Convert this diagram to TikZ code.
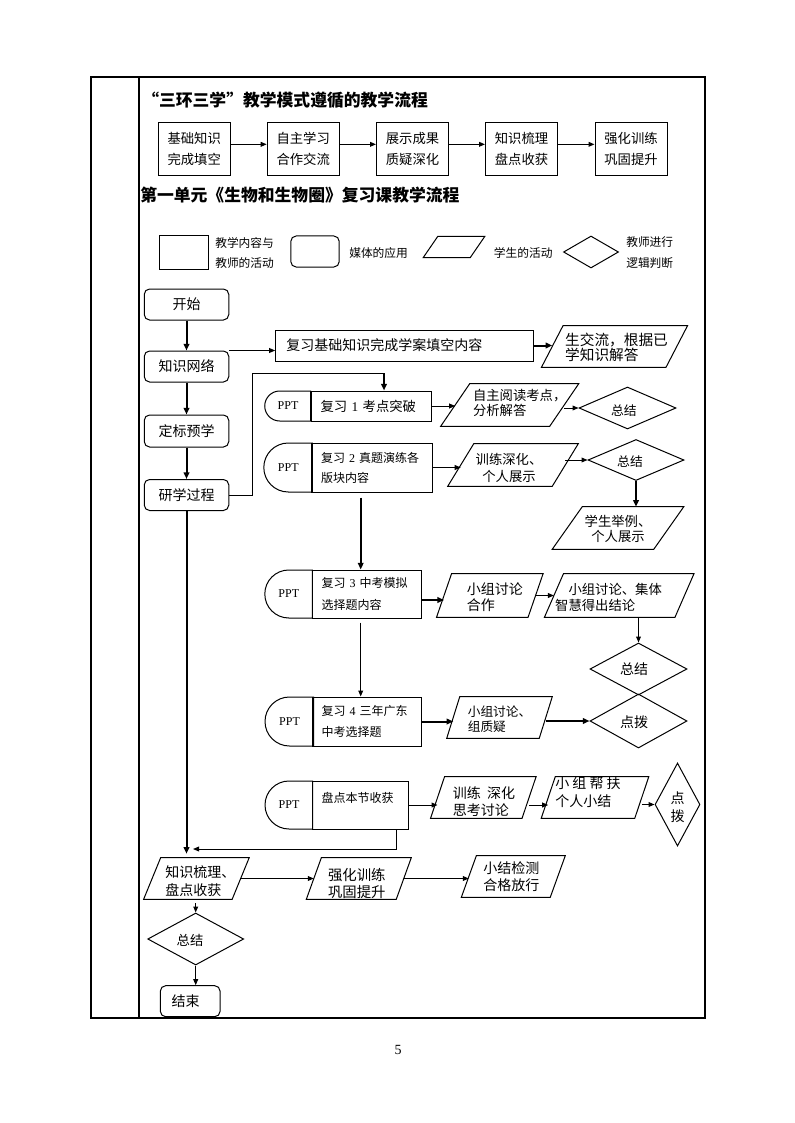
\documentclass[tikz,border=0pt]{standalone}
\usepackage{fontspec}
\setmainfont{Noto Sans CJK SC}
\newfontfamily\tnr{Liberation Serif}
\usetikzlibrary{shapes.geometric,shapes.misc,arrows.meta,calc}
\newcommand\fsz[2]{\fontsize{#1}{#2}\selectfont}
\newcommand\parabox[9][]{%
  \node[pbody,bw=#5,bh=#6] (#2) at (#3,#4) {};
  \draw[thinl] ($(#2.south west)+(-#7/2,0)$) -- ($(#2.north west)+(#7/2,0)$) -- ($(#2.north east)+(#7/2,0)$) -- ($(#2.south east)+(-#7/2,0)$) -- cycle;
  \node[ptxt,#1] (#2-t) at ($(#2.center)+(#8)$) {#9};
}
\tikzset{
  bw/.code={\pgfmathsetlengthmacro\tmpbw{#1*0.75pt}\edef\tmpx{\noexpand\tikzset{minimum width=\tmpbw}}\tmpx},
  bh/.code={\pgfmathsetlengthmacro\tmpbh{#1*0.75pt}\edef\tmpx{\noexpand\tikzset{minimum height=\tmpbh}}\tmpx},
  tw/.code={\pgfmathsetlengthmacro\tmptw{#1*0.75pt}\edef\tmpx{\noexpand\tikzset{text width=\tmptw}}\tmpx},
  thinl/.style={line width=0.75pt},
  thickl/.style={line width=1.5pt},
  arr/.style={thinl,-{Triangle[length=4.5pt,width=3.6pt]}},
  tarr/.style={thickl,-{Triangle[length=5pt,width=4.2pt]}},
  box/.style={draw,thinl,rectangle,inner sep=0pt,align=center},
  rbox/.style={box,rounded corners=4pt},
  pbody/.style={rectangle,inner sep=0pt,draw=none},
  ptxt/.style={inner sep=0pt,align=left,font=\fsz{10.5}{12.5}},
  dia/.style={draw,thinl,diamond,inner sep=0pt},
  dtxt/.style={inner sep=0pt,align=center,font=\fsz{10}{12}},
  ppt/.style={draw,thinl,rounded rectangle,rounded rectangle right arc=none,inner sep=0pt,font=\tnr\fsz{9}{10}},
  rt/.style={box,align=left,inner xsep=7.1pt,font=\fsz{9}{15}},
  lgt/.style={anchor=west,inner sep=0pt,align=left,font=\fsz{8.8}{15}},
  ttl/.style={anchor=west,inner sep=0pt,font=\bfseries\fsz{12.6}{14}},
  colbox/.style={rbox,bw=84.5,bh=31,font=\fsz{10.5}{12}},
  topbox/.style={box,bw=72,bh=53.4,font=\fsz{10}{16.3}},
}
\begin{document}
\begin{tikzpicture}[x=0.75pt,y=-0.75pt]
\fill[white] (0,0) rectangle (794,1123);
\useasboundingbox (0,0) rectangle (794,1123);
% frame
\draw[thickl] (91,77) rectangle (705,1018);
\draw[thickl] (139,77) -- (139,1018);
% titles
\node[ttl] (t1) at (142,100) {“三环三学”教学模式遵循的教学流程};
\node[ttl] (t2) at (140,195.5) {第一单元《生物和生物圈》复习课教学流程};
% top row
\node[topbox] (b1) at (194.2,149) {基础知识\\完成填空};
\node[topbox] (b2) at (303.2,149) {自主学习\\合作交流};
\node[topbox] (b3) at (412.5,149) {展示成果\\质疑深化};
\node[topbox] (b4) at (521.5,149) {知识梳理\\盘点收获};
\node[topbox] (b5) at (631,149) {强化训练\\巩固提升};
\foreach \a/\b in {b1/b2,b2/b3,b3/b4,b4/b5}
  \draw[arr] ([yshift=3.5pt]\a.east) -- ([yshift=3.5pt]\b.west);
% legend
\node[box,bw=48.5,bh=33] (lg1) at (184,252.5) {};
\node[lgt] (lg1t) at (215,253.3) {教学内容与\\教师的活动};
\node[rbox,bw=48.4,bh=31] (lg2) at (315,251.5) {};
\node[lgt] (lg2t) at (349,253) {媒体的应用};
\parabox{lg3}{454}{247}{46.5}{20.6}{14.5}{0,0}{}
\node[lgt] (lg3t) at (493.6,253) {学生的活动};
\node[dia,bw=55,bh=32] (lg4) at (591,252) {};
\node[lgt,font=\fsz{8.8}{16.2}] (lg4t) at (626,252.5) {教师进行\\逻辑判断};
% left column
\node[colbox] (kaishi) at (186.5,304.5) {开始};
\node[colbox] (zhishi) at (186.5,366.5) {知识网络};
\node[colbox,bh=32] (dingbiao) at (186.5,431) {定标预学};
\node[colbox] (yanxue) at (186.5,495) {研学过程};
\draw[tarr] (kaishi) -- (zhishi);
\draw[tarr] (zhishi) -- (dingbiao);
\draw[tarr] (dingbiao) -- (yanxue);
% review basics
\node[rt,bw=258,bh=31,tw=236.7,inner xsep=8pt,font=\fsz{10.5}{12}] (fuxi) at (404.7,345.5) {复习基础知识完成学案填空内容};
\parabox[font=\fsz{11}{11.5}]{sjl}{614.5}{346.5}{124}{41}{21.5}{2,1}{生交流，根据已\\学知识解答}
\draw[arr] (zhishi.north east) -- (zhishi.north east -| fuxi.west);
\draw[tarr] (fuxi.east) -- (fuxi.east -| sjl.west);
% PPT 1
\node[ppt,bw=46,bh=30] (p1) at (288,406) {PPT};
\node[rt,bw=120,bh=30,tw=101,font=\fsz{10}{12}] (r1) at (371,406) {复习 {\tnr 1} 考点突破};
\parabox[font=\fsz{10}{11.25}]{zizhu}{509.7}{405}{108.5}{42}{29}{10,-2}{自主阅读考点，\\分析解答}
\node[dia,bw=97,bh=42] (d1) at (627.5,408) {};
\node[dtxt,font=\fsz{9.6}{11}] (d1t) at ($(d1)+(-3.7,2.7)$) {总结};
\coordinate (c1) at (384,373);
\draw[thinl] (yanxue.east) -- ++(23,0) |- (c1);
\draw[tarr] (c1) -- (c1 |- r1.north);
\draw[arr] (r1.east) -- (r1.east -| zizhu.west);
\draw[arr] (zizhu.east |- d1.west) -- (d1.west);
% PPT 2
\node[ppt,bw=46.6,bh=49] (p2) at (288.3,467.5) {PPT};
\node[rt,bw=121,bh=49,tw=102] (r2) at (372,467.5) {复习 {\tnr 2} 真题演练各\\版块内容};
\parabox[align=center,font=\fsz{10}{12.5}]{xl}{513}{465}{104}{42}{26}{-4,3}{训练深化、\\个人展示}
\node[dia,bw=96,bh=41] (d2) at (636,460) {};
\node[dtxt,font=\fsz{9.6}{11}] (d2t) at ($(d2)+(-6,2)$) {总结};
\parabox[align=center,font=\fsz{10}{11.25}]{xs}{618}{528}{101}{42}{30}{0,1}{学生举例、\\个人展示}
\draw[arr] (r2.east) -- (r2.east -| xl.west);
\draw[arr] (xl.east |- d2.west) -- (d2.west);
\draw[tarr] (d2.south) -- (d2.south |- xs.north);
% PPT 3
\node[ppt,bw=46.4,bh=48] (p3) at (288.8,594) {PPT};
\node[rt,bw=109.8,bh=48,tw=90.8,font=\fsz{9}{16.5}] (r3) at (366.9,594) {复习 {\tnr 3} 中考模拟\\选择题内容};
\parabox[font=\fsz{10.5}{12}]{xz1}{489.8}{595.5}{91}{43}{15}{5,1.5}{小组讨论\\合作}
\parabox[font=\fsz{10}{12}]{jiti}{619.2}{595.5}{130}{43}{19}{-10.7,1.5}{\hspace*{1em}小组讨论、集体\\智慧得出结论}
\node[dia,bw=97,bh=52] (d3) at (638.5,669) {};
\node[dtxt,font=\fsz{10.5}{12}] (d3t) at ($(d3)+(-4.5,0)$) {总结};
\coordinate (v23) at ([shift={(-11.3,5)}]r2.south);
\draw[tarr] (v23) -- (v23 |- r3.north);
\coordinate (a3) at ([shift={(0,6)}]r3.east);
\draw[tarr] (a3) -- (a3 -| xz1.west);
\draw[arr] (xz1.east) -- (xz1.east -| jiti.west);
\draw[arr] (d3.north |- jiti.south) -- (d3.north);
% PPT 4
\node[ppt,bw=45,bh=49] (p4) at (289.5,721.5) {PPT};
\node[rt,bw=109.8,bh=49,tw=90.8,font=\fsz{9}{15.75}] (r4) at (366.9,721.5) {复习 {\tnr 4} 三年广东\\中考选择题};
\parabox[font=\fsz{9.5}{11.25}]{zhiyi}{499.5}{717.5}{92}{41}{13}{0,1.5}{小组讨论、\\组质疑}
\node[dia,bw=97,bh=54] (d4) at (638.5,721) {};
\node[dtxt,font=\fsz{10.5}{12}] (d4t) at ($(d4)+(-4.5,1)$) {点拨};
\coordinate (v34) at ([shift={(-6.2,4)}]r3.south);
\draw[arr] (v34) -- (v34 |- r4.north);
\draw[tarr] (r4.east) -- (r4.east -| zhiyi.west);
\draw[tarr] (zhiyi.east |- d4.west) -- (d4.west);
% PPT 5
\node[ppt,bw=46,bh=48] (p5) at (289,805) {PPT};
\node[rt,bw=96.5,bh=48,tw=77.5,font=\fsz{9}{12}] (r5) at (360.25,805) {盘点本节收获\\\mbox{}};
\parabox[font=\fsz{10.5}{12.75}]{sikao}{483.3}{797.5}{91}{41}{14}{0.7,4}{训练\hspace{0.45em}深化\\思考讨论}
\parabox[font=\fsz{10.5}{13.5}]{bangfu}{595}{797.5}{93}{41}{14}{-7,-5.5}{小 组 帮 扶\\个人小结}
\node[dia,bw=45,bh=83] (d5) at (677.5,804.5) {};
\node[dtxt,font=\fsz{10.5}{13.5}] (d5t) at ($(d5)+(0,3)$) {点\\拨};
\draw[arr] (r5.east) -- (r5.east -| sikao.west);
\draw[arr] (r5.east -| sikao.east) -- (r5.east -| bangfu.west);
\draw[arr] (d5.west -| bangfu.east) -- (d5.west);
\coordinate (c2) at (193,849);
\draw[arr] ([shift={(36.3,0)}]r5.south) |- (c2);
% bottom row
\parabox[font=\fsz{10.5}{13.7}]{shuli}{196.4}{878.5}{88}{41}{17}{4,2.5}{知识梳理、\\盘点收获}
\parabox[font=\fsz{10.8}{12.5}]{qh}{358.8}{878.5}{89.4}{41}{15}{-2,5}{强化训练\\巩固提升}
\parabox[font=\fsz{10.5}{12.75}]{xj}{513.3}{876.5}{88.4}{41}{15}{-2,0}{小结检测\\合格放行}
\draw[tarr,shorten >=3pt] (yanxue.south) -- (yanxue.south |- shuli.north);
\draw[arr] (shuli.east) -- (shuli.east -| qh.west);
\draw[arr] (qh.east) -- (qh.east -| xj.west);
\node[dia,bw=96,bh=52] (d6) at (195.7,939) {};
\node[dtxt] (d6t) at ($(d6)+(-5.7,1)$) {总结};
\node[rbox,bw=59.7,bh=31,tw=37.3,inner xsep=8.4pt,align=left,font=\fsz{10.5}{12}] (jieshu) at (190.2,1001.2) {结束};
\draw[arr,shorten <=3pt] (shuli.south -| d6.north) -- (d6.north);
\draw[arr] (d6.south) -- (d6.south |- jieshu.north);
% page number
\node[inner sep=0pt,font=\tnr\fsz{10.5}{12}] (pg) at (398,1050) {5};
\end{tikzpicture}
\end{document}
